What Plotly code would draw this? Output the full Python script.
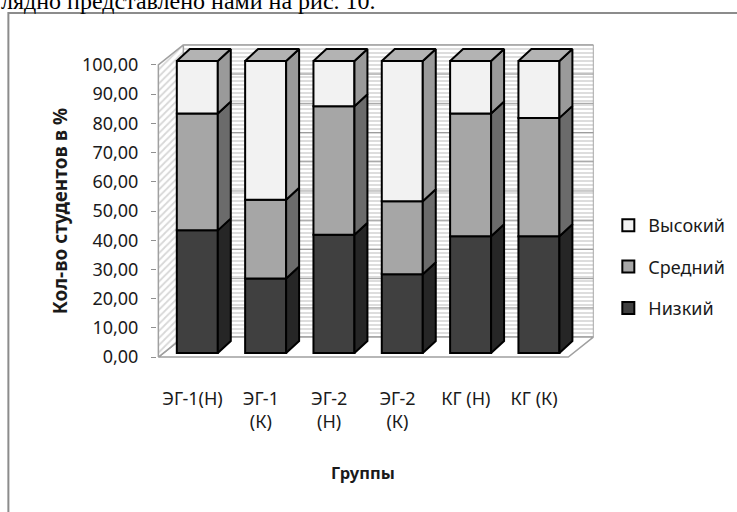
import plotly.graph_objects as go

# ---------------- data ----------------
categories = ['ЭГ-1(Н)', 'ЭГ-1<br>(К)', 'ЭГ-2<br>(Н)', 'ЭГ-2<br>(К)', 'КГ (Н)', 'КГ (К)']
low = [42.0, 25.5, 40.5, 27.0, 40.0, 40.0]      # Низкий
mid = [40.0, 27.0, 44.0, 25.0, 42.0, 40.5]      # Средний
high = [18.0, 47.5, 15.5, 48.0, 18.0, 19.5]     # Высокий
y_ticks = [0, 10, 20, 30, 40, 50, 60, 70, 80, 90, 100]
series_names = ['Низкий', 'Средний', 'Высокий']

# ---------------- geometry (pseudo 3-D) ----------------
W_FIG, H_FIG = 737, 512
PX_X, PX_Y = 68.33, 2.92          # pixels per data unit
ORG_PX_X, ORG_PX_Y = 158, 357     # pixel position of x=-0.5, y=0
X0, X1 = -0.52, 5.92
Y0, Y1 = -1.0, 107.5
L = ORG_PX_X + (X0 + 0.5) * PX_X
R = ORG_PX_X + (X1 + 0.5) * PX_X
T = ORG_PX_Y - Y1 * PX_Y
B = ORG_PX_Y - Y0 * PX_Y
PW, PH = R - L, B - T


def paper_x(px):
    return (px - L) / PW


def paper_y(py):
    return 1 - (py - T) / PH


WDX, WDY = 0.366, 6.85            # wall depth offset
FX, FY = 0.07, 1.37               # bar front offset
DX, DY = 0.19, 4.1                # bar depth
BW = 0.6                          # bar width
XL, XR = -0.5, 5.5
n = len(categories)

fig = go.Figure()

# back wall
fig.add_trace(go.Scatter(
    x=[XL + WDX, XR + WDX, XR + WDX, XL + WDX, XL + WDX],
    y=[WDY, WDY, y_ticks[-1] + WDY, y_ticks[-1] + WDY, WDY],
    fill='toself', mode='lines', line=dict(color='#a8a8a8', width=1),
    fillcolor='white',
    fillpattern=dict(shape='-', size=4, solidity=0.5, fgcolor='#bcbcbc', bgcolor='white'),
    showlegend=False, hoverinfo='skip'))
# back wall gridlines
gx, gy = [], []
for v in y_ticks[1:]:
    gx += [XL + WDX, XR + WDX, None]
    gy += [v + WDY, v + WDY, None]
fig.add_trace(go.Scatter(x=gx, y=gy, mode='lines', line=dict(color='#999999', width=1),
                         showlegend=False, hoverinfo='skip'))
# floor
fig.add_trace(go.Scatter(
    x=[XL, XR, XR + WDX, XL + WDX, XL], y=[0, 0, WDY, WDY, 0],
    fill='toself', mode='lines', line=dict(color='#a0a0a0', width=1.5),
    fillcolor='white', showlegend=False, hoverinfo='skip'))
# left wall
fig.add_trace(go.Scatter(
    x=[XL, XL, XL + WDX, XL + WDX, XL], y=[0, y_ticks[-1], y_ticks[-1] + WDY, WDY, 0],
    fill='toself', mode='lines', line=dict(color='#a0a0a0', width=1.5),
    fillcolor='white',
    fillpattern=dict(shape='/', size=5, solidity=0.35, fgcolor='#b0b0b0', bgcolor='white'),
    showlegend=False, hoverinfo='skip'))

# bars
front_colors = ['#404040', '#a6a6a6', '#f2f2f2']
side_colors = ['#262626', '#6b6b6b', '#9a9a9a']
legend_ranks = [3, 2, 1]
top_color = '#b3b3b3'
cum = [0.0] * n
for name, vals, fc, sc, rk in zip(series_names, [low, mid, high], front_colors, side_colors, legend_ranks):
    fig.add_trace(go.Bar(
        x=[i + FX for i in range(n)], y=vals, base=[c + FY for c in cum],
        width=BW, name=name, xaxis='x2', yaxis='y2', legendrank=rk,
        marker=dict(color=fc, line=dict(color='black', width=2)),
        legendgroup=name, hoverinfo='skip'))
    sx, sy = [], []
    for i in range(n):
        xr = i + FX + BW / 2
        b = cum[i] + FY
        t = cum[i] + vals[i] + FY
        sx += [xr, xr + DX, xr + DX, xr, xr, None]
        sy += [b, b + DY, t + DY, t, b, None]
    fig.add_trace(go.Scatter(x=sx, y=sy, xaxis='x2', yaxis='y2', fill='toself', mode='lines',
                             fillcolor=sc, line=dict(color='black', width=2),
                             showlegend=False, hoverinfo='skip'))
    cum = [c + v for c, v in zip(cum, vals)]

tx, ty = [], []
for i in range(n):
    xl = i + FX - BW / 2
    xr = i + FX + BW / 2
    t = cum[i] + FY
    tx += [xl, xl + DX, xr + DX, xr, xl, None]
    ty += [t, t + DY, t + DY, t, t, None]
fig.add_trace(go.Scatter(x=tx, y=ty, xaxis='x2', yaxis='y2', fill='toself', mode='lines',
                         fillcolor=top_color, line=dict(color='black', width=2),
                         showlegend=False, hoverinfo='skip'))

txt_color = '#1a1a1a'
fig.update_layout(
    width=W_FIG, height=H_FIG,
    margin=dict(l=L, r=W_FIG - R, t=T, b=H_FIG - B, pad=0, autoexpand=False),
    paper_bgcolor='white', plot_bgcolor='rgba(0,0,0,0)',
    font=dict(family='Noto Sans', size=18, color=txt_color),
    separators=', ',
    barmode='overlay',
    showlegend=True,
    legend=dict(x=paper_x(608), y=paper_y(207), xanchor='left', yanchor='top',
                traceorder='grouped', tracegroupgap=15,
                font=dict(family='Noto Sans', size=18, color=txt_color),
                bgcolor='rgba(0,0,0,0)'),
    xaxis=dict(range=[X0, X1], tickvals=list(range(n)), ticktext=categories,
               showgrid=False, zeroline=False, showline=False, ticks='',
               ticklabelstandoff=26, tickfont=dict(size=18, color=txt_color)),
    yaxis=dict(range=[Y0, Y1], tickvals=y_ticks, tickformat='.2f',
               showgrid=False, zeroline=False, showline=False,
               ticks='outside', ticklen=5, tickcolor='#909090', tickwidth=1,
               ticklabelstandoff=9, tickfont=dict(size=18, color=txt_color)),
    xaxis2=dict(range=[X0, X1], overlaying='x', visible=False),
    yaxis2=dict(range=[Y0, Y1], overlaying='y', visible=False),
    hovermode=False,
)

# axis titles
fig.add_annotation(text='<b>Кол-во студентов в %</b>', textangle=-90,
                   xref='paper', yref='paper', x=paper_x(60), y=paper_y(211),
                   xanchor='center', yanchor='middle',
                   showarrow=False, font=dict(family='Noto Sans', size=19, color=txt_color))
fig.add_annotation(text='<b>Группы</b>', xref='paper', yref='paper',
                   x=paper_x(363), y=paper_y(472), xanchor='center', yanchor='middle',
                   showarrow=False, font=dict(family='Noto Sans', size=16.5, color=txt_color))
# surrounding document text (cut off at top)
fig.add_annotation(text='лядно представлено нами на рис. 10.', xref='paper', yref='paper',
                   x=paper_x(-1), y=paper_y(1.5), xanchor='left', yanchor='middle',
                   showarrow=False, font=dict(family='Liberation Serif', size=24, color='black'))
# chart frame
fig.add_shape(type='rect', xref='paper', yref='paper',
              x0=paper_x(8), y0=paper_y(13), x1=paper_x(760), y1=paper_y(540),
              line=dict(color='#8c8c8c', width=2), fillcolor='rgba(0,0,0,0)', layer='below')

fig.write_html('out.html', config={'displayModeBar': False},
               post_script="document.body.style.margin='0';document.body.style.overflow='hidden';")
